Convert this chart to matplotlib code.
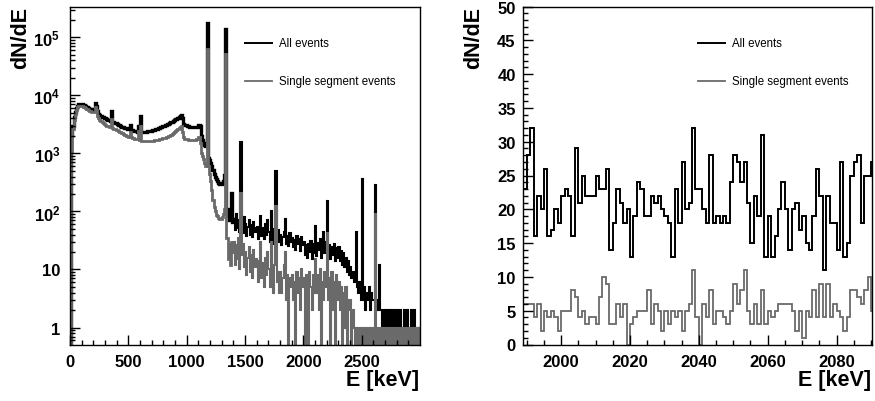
import numpy as np
import matplotlib
matplotlib.use("Agg")
import matplotlib.pyplot as plt
from matplotlib.ticker import FixedLocator, FixedFormatter, MultipleLocator, LogLocator, NullFormatter

plt.rcParams['font.family'] = ['Liberation Sans', 'DejaVu Sans']
plt.rcParams['mathtext.fontset'] = 'custom'
plt.rcParams['mathtext.rm'] = 'Liberation Sans'
plt.rcParams['mathtext.bf'] = 'Liberation Sans:bold'

# full spectrum, 10 keV bins from 0 to 3000 keV
spec_width = 10
all_full = [
    0, 2000, 3000, 4200, 5200, 6000, 6600, 7000, 7100, 7100,
    7000, 6900, 6700, 6500, 6300, 6100, 5900, 5800, 5700, 5650,
    5800, 7400, 6500, 5300, 4800, 4600, 4450, 4300, 4200, 4100,
    4000, 3900, 3800, 3700, 3600, 5400, 3500, 3420, 3350, 3300,
    3200, 3120, 3050, 2980, 2900, 2850, 2790, 2740, 2690, 2640,
    2600, 3100, 2550, 2500, 2460, 2430, 2400, 2380, 3000, 2350,
    4400, 2330, 2330, 2340, 2360, 2380, 2400, 2420, 2450, 2480,
    2500, 2530, 2570, 2610, 2650, 2700, 2750, 2800, 2860, 2920,
    2980, 3040, 3100, 3170, 3250, 3330, 3420, 3520, 3620, 3740,
    3850, 3950, 4100, 4250, 4400, 4540, 4000, 3200, 3100, 3050,
    3000, 2950, 2900, 2880, 2850, 2820, 2800, 2800, 2850, 2900,
    3030, 2950, 2000, 1700, 1500, 1400, 1340, 180000, 850, 760,
    680, 600, 520, 450, 400, 360, 330, 310, 300, 300,
    310, 340, 420, 140000, 110, 85, 70, 90, 210, 65,
    75, 48, 90, 52, 70, 45, 1560, 60, 42, 80,
    62, 38, 55, 70, 40, 58, 36, 66, 44, 52,
    55, 34, 48, 85, 38, 52, 33, 60, 40, 70,
    45, 30, 101, 40, 28, 50, 495, 34, 48, 30,
    40, 26, 36, 45, 75, 28, 38, 25, 42, 30,
    35, 24, 32, 22, 38, 27, 33, 21, 36, 26,
    30, 18, 26, 16, 28, 20, 31, 15, 27, 19,
    56, 17, 29, 22, 33, 16, 27, 45, 19, 30,
    150, 17, 26, 15, 24, 18, 28, 14, 23, 16,
    24, 14, 21, 12, 19, 11, 16, 9, 14, 8,
    11, 7, 9, 6, 8, 45, 5, 4, 6, 3,
    356, 3, 5, 2, 4, 3, 5, 2, 4, 3,
    3, 290, 2, 3, 2, 12, 2, 1, 2, 1,
    2, 1, 2, 1, 2, 1, 2, 1, 2, 1,
    2, 1, 1, 2, 1, 0, 2, 1, 0, 2,
    1, 0, 2, 1, 0, 2, 1, 0, 1, 0,
]
single_full = [
    0, 1050, 2600, 3800, 4800, 5600, 6200, 6500, 6600, 6600,
    6500, 6400, 6200, 6000, 5800, 5600, 5400, 5300, 5200, 5100,
    5200, 6300, 5600, 4500, 4000, 3800, 3600, 3450, 3300, 3200,
    3100, 3000, 2950, 2880, 2800, 3900, 2730, 2650, 2600, 2570,
    2500, 2420, 2360, 2300, 2230, 2170, 2110, 2060, 2010, 1980,
    1950, 2300, 1900, 1860, 1830, 1800, 1780, 1760, 2400, 1700,
    3000, 1640, 1630, 1620, 1620, 1620, 1620, 1630, 1640, 1650,
    1650, 1660, 1670, 1690, 1710, 1730, 1750, 1770, 1790, 1810,
    1830, 1860, 1890, 1930, 1970, 2020, 2080, 2150, 2230, 2320,
    2420, 2520, 2640, 2760, 2880, 2950, 2300, 1900, 1800, 1770,
    1750, 1730, 1720, 1720, 1710, 1700, 1700, 1710, 1750, 1800,
    1950, 1500, 1020, 900, 790, 680, 600, 62000, 600, 450,
    330, 230, 160, 120, 100, 88, 82, 78, 75, 75,
    80, 90, 110, 51000, 35, 15, 28, 12, 30, 20,
    30, 12, 26, 15, 35, 10, 210, 18, 28, 11,
    20, 8, 16, 24, 9, 18, 7, 22, 11, 15,
    14, 6, 12, 30, 7, 13, 5, 16, 8, 20,
    10, 5, 30, 8, 4, 12, 123, 6, 9, 4,
    9, 4, 7, 12, 20, 3, 8, 0, 7, 5,
    8, 3, 6, 0, 9, 4, 7, 2, 10, 5,
    7, 0, 8, 3, 0, 9, 5, 2, 8, 4,
    15, 4, 8, 2, 10, 0, 6, 3, 9, 5,
    43, 3, 7, 0, 9, 2, 6, 0, 8, 3,
    6, 2, 5, 0, 4, 1, 5, 0, 3, 2,
    3, 0, 2, 1, 0, 1, 0, 1, 0, 1,
    0, 1, 0, 1, 0, 1, 0, 1, 0, 1,
    0, 90, 0, 1, 0, 1, 0, 1, 0, 1,
    0, 1, 0, 1, 0, 1, 0, 1, 0, 1,
    0, 1, 0, 1, 0, 1, 0, 1, 0, 1,
    0, 1, 0, 1, 0, 1, 0, 1, 0, 1,
]

# zoomed window, 1 keV bins starting at 1989 keV (right panel)
win_start = 1989
all_win = [
    23, 28, 32, 16, 22, 20, 26, 16, 17, 20, 18,
    22, 23, 22, 16, 29, 21, 25, 22, 22, 22,
    25, 23, 23, 26, 14, 18, 23, 21, 18, 20,
    13, 19, 24, 23, 19, 19, 22, 21, 22, 20,
    19, 18, 13, 23, 18, 27, 20, 21, 32, 23,
    23, 20, 18, 28, 18, 19, 18, 19, 18, 24,
    28, 27, 24, 27, 21, 15, 22, 19, 31, 13,
    19, 13, 16, 20, 24, 20, 14, 20, 21, 17,
    19, 15, 14, 19, 26, 22, 11, 22, 18, 18,
    14, 27, 13, 15, 25, 27, 28, 18, 25, 25,
    27,
]
single_win = [
    6, 6, 6, 4, 6, 2, 5, 4, 5, 4, 2,
    5, 5, 5, 8, 7, 4, 5, 3, 4, 4,
    3, 7, 10, 9, 3, 3, 6, 4, 6, 0,
    3, 4, 5, 5, 5, 8, 3, 6, 5, 2,
    5, 3, 5, 4, 5, 2, 5, 6, 11, 4,
    0, 6, 4, 8, 3, 5, 5, 4, 3, 5,
    9, 6, 8, 11, 5, 3, 6, 3, 8, 3,
    5, 4, 5, 6, 6, 6, 6, 5, 2, 5,
    1, 5, 4, 8, 4, 9, 4, 9, 4, 6,
    5, 4, 2, 4, 8, 8, 7, 6, 8, 10,
    5,
]

GRAY = '#6a6a6a'
W, H = 875, 402

fig = plt.figure(figsize=(W / 100, H / 100), dpi=100)
axL = fig.add_axes([70 / W, 56.5 / H, 350 / W, 338 / H])
axR = fig.add_axes([523.3 / W, 56.5 / H, 348.7 / W, 338 / H])

# ---- left: full spectrum, log scale
edges = np.arange(len(all_full) + 1) * spec_width
cut = 141  # smooth part drawn thicker, noisy part as a dense band
axL.stairs(all_full[:cut], edges[:cut + 1], baseline=None, color='k', lw=2.4)
axL.stairs(all_full[cut - 1:], edges[cut - 1:], baseline=None, color='k', lw=1.5)
axL.stairs(single_full[:cut], edges[:cut + 1], baseline=None, color=GRAY, lw=2.0)
axL.stairs(single_full[cut - 1:], edges[cut - 1:], baseline=None, color=GRAY, lw=1.5)

axL.set_yscale('log')
axL.set_xlim(0, 3000)
axL.set_ylim(0.51, 3.4e5)
axL.xaxis.set_major_locator(FixedLocator([0, 500, 1000, 1500, 2000, 2500]))
axL.xaxis.set_minor_locator(FixedLocator([e for e in range(100, 3000, 100) if e % 500]))
axL.yaxis.set_major_locator(FixedLocator([1, 10, 1e2, 1e3, 1e4, 1e5]))
axL.yaxis.set_major_formatter(FixedFormatter(
    ['1', '10', r'$\mathbf{10^{2}}$', r'$\mathbf{10^{3}}$', r'$\mathbf{10^{4}}$', r'$\mathbf{10^{5}}$']))
axL.yaxis.set_minor_locator(LogLocator(base=10, subs=np.arange(2, 10), numticks=20))
axL.yaxis.set_minor_formatter(NullFormatter())

# ---- right: zoomed window, linear
wedges = np.arange(win_start, win_start + len(all_win) + 1)
axR.stairs(all_win, wedges, baseline=None, color='k', lw=1.4)
axR.stairs(single_win, wedges, baseline=None, color=GRAY, lw=1.3)
axR.set_xlim(1989, 2090.3)
axR.set_ylim(0, 50)
axR.xaxis.set_major_locator(FixedLocator([2000, 2020, 2040, 2060, 2080]))
axR.xaxis.set_minor_locator(MultipleLocator(5))
axR.yaxis.set_major_locator(MultipleLocator(5))
axR.yaxis.set_minor_locator(MultipleLocator(1))

for ax in (axL, axR):
    for s in ax.spines.values():
        s.set_linewidth(1.0)
    ax.tick_params(which='both', direction='in', top=False, right=False, width=1.0)
    ax.tick_params(which='major', length=7.2)
    ax.tick_params(which='minor', length=3.6)
    ax.tick_params(axis='x', which='major', pad=6.5)
    ax.tick_params(axis='y', which='major', pad=5.5)
    for lab in ax.get_xticklabels() + ax.get_yticklabels():
        lab.set_fontsize(12)
        lab.set_fontweight('bold')

    # legend, drawn ROOT style
    ax.plot([0.5, 0.578], [0.892, 0.892], transform=ax.transAxes, color='k', lw=1.4)
    ax.plot([0.5, 0.578], [0.780, 0.780], transform=ax.transAxes, color=GRAY, lw=1.3)
    ax.text(0.598, 0.892, 'All events', transform=ax.transAxes, va='center', fontsize=8.3)
    ax.text(0.598, 0.780, 'Single segment events', transform=ax.transAxes, va='center', fontsize=8.3)

axL.tick_params(axis='y', which='major', pad=7)

# axis titles
fig.text(419 / W, 1 - 381 / H, 'E [keV]', ha='right', va='center', fontsize=15.5, fontweight='bold')
fig.text(871 / W, 1 - 381 / H, 'E [keV]', ha='right', va='center', fontsize=15.5, fontweight='bold')
fig.text(21 / W, 1 - 7 / H, 'dN/dE', rotation=90, ha='center', va='top', fontsize=15.5, fontweight='bold')
fig.text(474 / W, 1 - 7 / H, 'dN/dE', rotation=90, ha='center', va='top', fontsize=15.5, fontweight='bold')

fig.savefig('out.png', dpi=100)
